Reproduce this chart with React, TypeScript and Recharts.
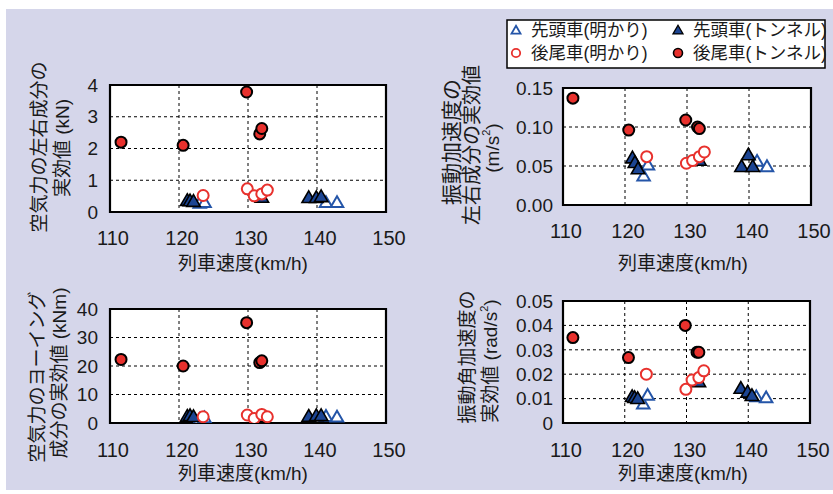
import React from 'react';
import { ScatterChart, Scatter, XAxis, YAxis, CartesianGrid, ReferenceArea } from 'recharts';

// 列車速度 (km/h) for each group
const speedLeadOpen = [123.0, 123.7, 141.3, 142.9];
const speedLeadTunnel = [121.2, 121.6, 122.1, 132.0, 138.8, 139.9, 140.6];
const speedTailOpen = [123.5, 129.9, 130.9, 132.0, 132.8];
const speedTailTunnel = [111.6, 120.6, 129.8, 131.7, 132.0];

// 空気力の左右成分の実効値 (kN)
const forceLeadOpen = [0.25, 0.27, 0.27, 0.27];
const forceLeadTunnel = [0.33, 0.32, 0.3, 0.43, 0.42, 0.42, 0.45];
const forceTailOpen = [0.52, 0.73, 0.51, 0.57, 0.69];
const forceTailTunnel = [2.2, 2.1, 3.78, 2.46, 2.63];

// 振動加速度の左右成分の実効値 (m/s2)
const accLeadOpen = [0.036, 0.05, 0.055, 0.048];
const accLeadTunnel = [0.059, 0.053, 0.045, 0.056, 0.048, 0.063, 0.048];
const accTailOpen = [0.062, 0.0535, 0.057, 0.062, 0.068];
const accTailTunnel = [0.137, 0.096, 0.109, 0.1, 0.098];

// 空気力のヨーイング成分の実効値 (kNm)
const yawLeadOpen = [1.0, 1.5, 2.0, 1.8];
const yawLeadTunnel = [2.0, 2.2, 1.9, 2.0, 2.0, 2.2, 2.2];
const yawTailOpen = [2.2, 2.8, 1.6, 3.0, 2.2];
const yawTailTunnel = [22.3, 20.0, 35.2, 21.2, 21.8];

// 振動角加速度の実効値 (rad/s2)
const angLeadOpen = [0.0074, 0.011, 0.0104, 0.01];
const angLeadTunnel = [0.0104, 0.01, 0.0096, 0.0165, 0.0138, 0.0122, 0.0108];
const angTailOpen = [0.02, 0.0138, 0.0176, 0.0186, 0.0214];
const angTailTunnel = [0.035, 0.0268, 0.04, 0.029, 0.029];

const speedTicks = [110, 120, 130, 140, 150];

const pts = (xs: number[], ys: number[]) => xs.map((x, i) => ({ x, y: ys[i] }));

const BLUE = '#2455a8';
const NAVY = '#1c4593';
const RED = '#e8312d';
const FONT = "'Liberation Sans', 'Noto Sans CJK JP', sans-serif";

const tri = (cx: number, cy: number, a: number) => {
  const h = a * 0.866;
  return `M${cx},${cy - (2 * h) / 3}L${cx + a / 2},${cy + h / 3}L${cx - a / 2},${cy + h / 3}Z`;
};

const OpenTri = (p: any) => <path d={tri(p.cx, p.cy, 12.5)} fill="#fff" stroke={BLUE} strokeWidth={2} />;
const FillTri = (p: any) => <path d={tri(p.cx, p.cy, 13.5)} fill={NAVY} stroke="#000" strokeWidth={1.6} />;
const OpenDot = (p: any) => <circle cx={p.cx} cy={p.cy} r={5.5} fill="#fff" stroke={RED} strokeWidth={2} />;
const FillDot = (p: any) => <circle cx={p.cx} cy={p.cy} r={5.5} fill={RED} stroke="#000" strokeWidth={2} />;

type PanelProps = {
  box: [number, number, number, number];
  yMax: number;
  yTicks: number[];
  fmt: (v: number) => string;
  yGap: number;
  xGap: number;
  series: { x: number; y: number }[][];
};

const Panel = ({ box, yMax, yTicks, fmt, yGap, xGap, series }: PanelProps) => {
  const [x0, y0, x1, y1] = box;
  const yw = 70;
  const mt = 14;
  const mr = 26;
  const xh = 44;
  return (
    <div style={{ position: 'absolute', left: x0 - yw, top: y0 - mt }}>
      <ScatterChart
        width={x1 - x0 + yw + mr}
        height={y1 - y0 + mt + xh}
        margin={{ top: mt, right: mr, bottom: 0, left: 0 }}
      >
        <CartesianGrid stroke="#000" strokeDasharray="3 3" strokeWidth={1} fill="#fff" fillOpacity={1} />
        <XAxis
          type="number"
          dataKey="x"
          domain={[110, 150]}
          ticks={speedTicks}
          interval={0}
          allowDataOverflow
          height={xh}
          tickLine={false}
          axisLine={false}
          tickSize={0}
          tickMargin={xGap}
          tick={{ fontSize: 20, fill: '#1a1a1a', fontFamily: FONT, dx: 3 }}
        />
        <YAxis
          type="number"
          dataKey="y"
          domain={[0, yMax]}
          ticks={yTicks}
          interval={0}
          allowDataOverflow
          width={yw}
          tickLine={false}
          axisLine={false}
          tickSize={0}
          tickMargin={yGap}
          tickFormatter={fmt}
          tick={{ fontSize: 19, fill: '#1a1a1a', fontFamily: FONT }}
        />
        <ReferenceArea x1={110} x2={150} y1={0} y2={yMax} fill="none" stroke="#000" strokeWidth={2.2} />
        <Scatter data={series[0]} shape={OpenTri} isAnimationActive={false} />
        <Scatter data={series[1]} shape={FillTri} isAnimationActive={false} />
        <Scatter data={series[2]} shape={OpenDot} isAnimationActive={false} />
        <Scatter data={series[3]} shape={FillDot} isAnimationActive={false} />
      </ScatterChart>
    </div>
  );
};

const VLabel = ({ x, y, text, sup, size = 19 }: { x: number; y: number; text: string; sup?: string; size?: number }) => (
  <text
    x={x}
    y={y}
    transform={`rotate(-90 ${x} ${y})`}
    textAnchor="middle"
    dominantBaseline="central"
    fontSize={size}
    fill="#1a1a1a"
    fontFamily={FONT}
  >
    {text}
    {sup && (
      <>
        <tspan dy={-6} fontSize={11}>{sup}</tspan>
        <tspan dy={6}>)</tspan>
      </>
    )}
  </text>
);

const XTitle = ({ x, y }: { x: number; y: number }) => (
  <text x={x} y={y} textAnchor="middle" dominantBaseline="central" fontSize={19} fill="#1a1a1a" fontFamily={FONT}>
    列車速度(km/h)
  </text>
);

const LegendItem = ({ x, y, kind, label }: { x: number; y: number; kind: number; label: string }) => (
  <g>
    {kind === 0 && <path d={tri(x, y + 1, 9)} fill="#fff" stroke={BLUE} strokeWidth={1.8} />}
    {kind === 1 && <path d={tri(x, y + 1, 10)} fill={NAVY} stroke="#000" strokeWidth={1.3} />}
    {kind === 2 && <circle cx={x} cy={y} r={4.2} fill="#fff" stroke={RED} strokeWidth={1.8} />}
    {kind === 3 && <circle cx={x} cy={y} r={4.5} fill={RED} stroke="#000" strokeWidth={1.6} />}
    <text x={x + 15} y={y} dominantBaseline="central" fontSize={17.5} fill="#1a1a1a" fontFamily={FONT}>
      {label}
    </text>
  </g>
);

export default function App() {
  return (
    <div style={{ position: 'absolute', left: 0, top: 0, width: 833, height: 494, background: '#fff', overflow: 'hidden' }}>
      <div style={{ position: 'absolute', left: 6, top: 9, width: 827, height: 481, background: '#d5d6ea' }} />
      <Panel
        box={[110, 85, 386, 212]}
        yMax={4}
        yTicks={[0, 1, 2, 3, 4]}
        fmt={(v) => String(v)}
        yGap={12}
        xGap={19}
        series={[
          pts(speedLeadOpen, forceLeadOpen),
          pts(speedLeadTunnel, forceLeadTunnel),
          pts(speedTailOpen, forceTailOpen),
          pts(speedTailTunnel, forceTailTunnel),
        ]}
      />
      <Panel
        box={[563, 88, 811, 205]}
        yMax={0.15}
        yTicks={[0, 0.05, 0.1, 0.15]}
        fmt={(v) => v.toFixed(2)}
        yGap={10}
        xGap={19}
        series={[
          pts(speedLeadOpen, accLeadOpen),
          pts(speedLeadTunnel, accLeadTunnel),
          pts(speedTailOpen, accTailOpen),
          pts(speedTailTunnel, accTailTunnel),
        ]}
      />
      <Panel
        box={[110, 309, 386, 423]}
        yMax={40}
        yTicks={[0, 10, 20, 30, 40]}
        fmt={(v) => String(v)}
        yGap={12}
        xGap={20}
        series={[
          pts(speedLeadOpen, yawLeadOpen),
          pts(speedLeadTunnel, yawLeadTunnel),
          pts(speedTailOpen, yawTailOpen),
          pts(speedTailTunnel, yawTailTunnel),
        ]}
      />
      <Panel
        box={[563, 301, 810, 423]}
        yMax={0.05}
        yTicks={[0, 0.01, 0.02, 0.03, 0.04, 0.05]}
        fmt={(v) => (v === 0 ? '0' : v.toFixed(2))}
        yGap={10}
        xGap={20}
        series={[
          pts(speedLeadOpen, angLeadOpen),
          pts(speedLeadTunnel, angLeadTunnel),
          pts(speedTailOpen, angTailOpen),
          pts(speedTailTunnel, angTailTunnel),
        ]}
      />
      <svg width={833} height={494} style={{ position: 'absolute', left: 0, top: 0, pointerEvents: 'none' }}>
        <VLabel x={39} y={147} text="空気力の左右成分の" />
        <VLabel x={62} y={148} text="実効値 (kN)" />
        <VLabel x={451} y={142} text="振動加速度の" size={21} />
        <VLabel x={472} y={145} text="左右成分の実効値" size={20} />
        <VLabel x={492} y={148} text="(m/s" sup="2" />
        <VLabel x={37} y={377} text="空気力のヨーイング" />
        <VLabel x={59} y={373} text="成分の実効値 (kNm)" />
        <VLabel x={467} y={357} text="振動角加速度の" />
        <VLabel x={490} y={361} text="実効値 (rad/s" sup="2" />
        <XTitle x={243} y={263} />
        <XTitle x={683} y={263} />
        <XTitle x={243} y={473} />
        <XTitle x={683} y={473} />
        <rect x={507} y={20} width={318} height={48} fill="#fff" stroke="#000" strokeWidth={1.5} />
        <LegendItem x={516} y={30} kind={0} label="先頭車(明かり)" />
        <LegendItem x={678} y={30} kind={1} label="先頭車(トンネル)" />
        <LegendItem x={516} y={53} kind={2} label="後尾車(明かり)" />
        <LegendItem x={678} y={53} kind={3} label="後尾車(トンネル)" />
      </svg>
    </div>
  );
}
